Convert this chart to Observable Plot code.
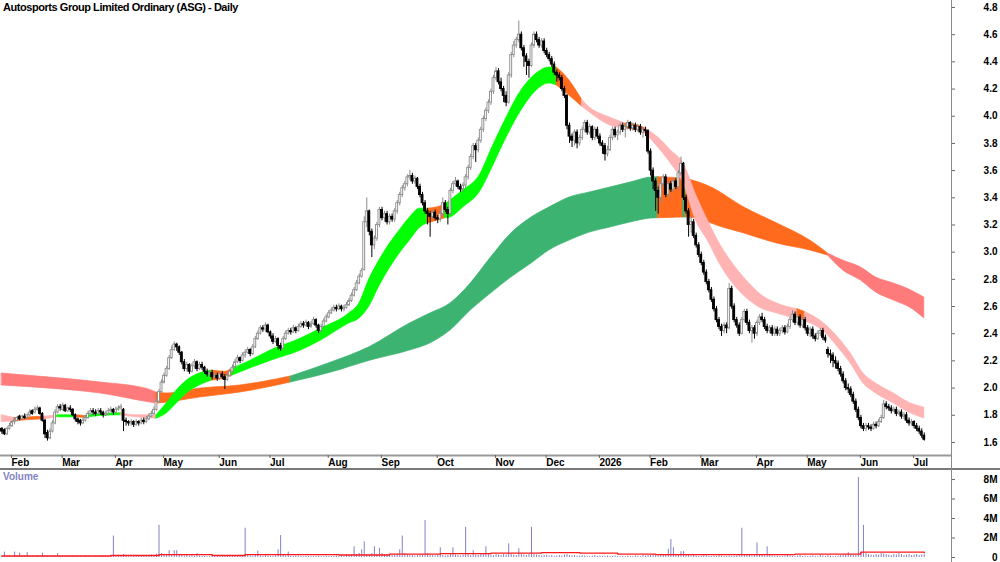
<!DOCTYPE html>
<html><head><meta charset="utf-8">
<script src="https://cdn.jsdelivr.net/npm/d3@7"></script>
<script src="https://cdn.jsdelivr.net/npm/@observablehq/plot@0.6"></script>
<style>
body{margin:0;background:#fff;font-family:"Liberation Sans",Arial,sans-serif;}
#wrap{position:relative;width:1000px;height:562px;overflow:hidden;background:#fff;}
#price{position:absolute;left:0;top:0;}
#vol{position:absolute;left:0;top:469px;}
#title{position:absolute;left:3px;top:1px;font-weight:bold;font-size:11px;line-height:12px;letter-spacing:-0.45px;color:#000;white-space:nowrap;}
#vlabel{position:absolute;left:3px;top:472px;font-weight:bold;font-size:10px;line-height:10px;color:#8484c4;}
#vline{position:absolute;left:951px;top:0;width:1px;height:562px;background:#8a8a8a;}
#hline{position:absolute;left:0;top:468px;width:1000px;height:2px;background:#7a7a7a;}
</style></head><body>
<div id="wrap">
<div id="price"></div><div id="vol"></div>
<div id="hline"></div><div id="vline"></div>
<div id="title">Autosports Group Limited Ordinary (ASG) - Daily</div>
<div id="vlabel">Volume</div>
</div>
<script>
// ---------- data (prices in cents, volumes in 0.01M) ----------
const firstIdx = -3; // first candle sits 3 trading days before the Feb tick
const monthLabels = ["Feb","Mar","Apr","May","Jun","Jul","Aug","Sep","Oct","Nov","Dec","2026","Feb","Mar","Apr","May","Jun","Jul"];
const monthStartIdx = [0,20,41,60,82,102,125,146,168,191,211,232,252,272,294,314,335,356];
const priceTicks = [1.6,1.8,2.0,2.2,2.4,2.6,2.8,3.0,3.2,3.4,3.6,3.8,4.0,4.2,4.4,4.6,4.8];
const volTicks = [0,2,4,6,8];

const closeC = [
168,166,170,172,175,176,178,177,179,178, 180,182,181,184,185,181,176,166,163,168,
174,182,186,185,187,183,185,184,180,177, 175,174,176,178,181,183,182,181,183,182,
180,181,183,184,182,184,185,186,176,175, 174,175,173,175,174,176,175,177,179,181,
184,190,197,204,209,214,222,228,232,230, 226,219,214,217,212,216,219,214,217,215,
212,210,211,208,209,207,210,208,206,209, 212,215,219,222,220,224,226,228,225,230,
236,240,244,243,246,241,238,234,236,231, 229,236,240,242,241,244,242,245,247,246,
248,245,247,250,246,242,245,249,252,255, 257,259,258,260,258,259,261,264,268,272,
277,282,286,322,330,315,305,310,320,331, 325,328,322,326,324,330,336,342,347,350,
355,356,352,354,348,342,336,330,328,326, 329,325,324,328,336,331,328,345,350,352,
348,346,349,355,362,370,378,375,382,390, 398,404,410,418,428,433,425,420,415,410,
430,445,452,456,460,450,444,440,437,452, 460,456,452,455,448,445,442,438,432,430,
428,420,415,393,385,382,388,380,384,390, 395,388,392,384,390,385,380,378,372,375,
384,390,386,388,393,390,392,395,391,393, 390,392,388,390,389,374,360,352,345,340,
350,355,342,350,346,352,348,358,365,340, 330,320,322,312,305,298,292,285,278,272,
265,258,250,245,242,246,244,273,260,250, 246,240,250,256,248,242,244,240,248,252,
250,245,242,244,240,243,240,242,244,241, 245,250,254,248,252,246,250,244,240,243,
238,236,240,242,237,235,225,224,220,218, 214,210,205,200,199,195,190,184,178,172,
170,172,171,170,173,172,175,178,188,186, 185,183,184,181,182,179,180,176,174,175,
172,170,168,165,162];

const openC = [
170,169,166,170,172,175,176,179,177,179, 178,180,183,182,184,185,181,176,167,163,
168,174,182,186,184,187,183,185,184,180, 177,176,174,176,178,181,183,182,181,183,
182,180,181,183,184,182,184,185,184,176, 175,174,175,173,175,174,176,175,177,179,
181,184,190,197,204,209,214,222,228,232, 230,226,219,214,217,212,216,219,214,217,
215,212,210,211,208,209,207,210,208,206, 209,212,215,219,222,220,224,226,228,225,
230,236,240,244,243,246,241,238,234,236, 231,229,236,240,242,241,244,242,245,247,
246,248,245,247,250,246,242,245,249,252, 255,257,259,258,260,258,259,261,264,268,
272,277,282,287,322,330,315,305,310,320, 331,325,328,322,326,324,330,336,342,347,
350,355,356,352,354,348,342,336,330,328, 326,329,325,324,328,336,331,328,345,350,
352,348,346,349,355,362,370,378,375,382, 390,398,404,410,418,428,433,425,420,415,
410,430,445,452,456,460,450,444,440,437, 452,460,456,452,455,448,445,442,438,432,
430,428,420,415,393,385,382,388,380,384, 390,395,388,392,384,390,385,380,378,372,
375,384,390,386,388,393,390,392,395,391, 393,390,392,388,390,389,374,360,352,345,
340,350,355,342,350,346,352,348,358,365, 340,330,320,322,312,305,298,292,285,278,
272,265,258,250,245,242,246,244,273,260, 250,246,240,250,256,248,242,244,240,248,
252,250,245,242,244,240,243,240,242,244, 241,245,250,254,248,252,246,250,244,240,
243,238,236,240,242,237,228,225,224,220, 218,214,210,205,200,199,195,190,184,178,
172,170,172,171,170,173,172,175,178,188, 186,185,183,184,181,182,179,180,176,174,
175,172,170,168,165];

const highC = [
171,170,171,174,176,178,179,180,180,181, 181,184,184,186,187,186,182,177,169,170,
176,184,188,188,189,188,186,187,185,181, 178,177,178,180,183,185,185,184,185,185,
183,183,185,186,185,186,187,188,185,178, 176,177,176,177,176,178,178,179,181,183,
186,192,199,206,211,216,224,231,234,233, 231,227,221,219,218,218,221,220,219,219,
216,214,213,213,211,211,212,212,210,211, 214,217,221,224,223,226,228,230,229,232,
238,242,246,246,248,247,242,240,238,237, 233,238,242,244,244,246,245,247,249,249,
250,249,249,252,251,247,247,251,254,257, 259,261,261,262,261,261,263,266,270,274,
279,284,288,326,340,331,317,312,322,333, 333,330,330,328,328,332,338,344,349,352,
357,360,358,356,355,350,344,338,332,330, 331,331,327,330,340,338,333,347,352,355,
353,350,351,357,364,372,380,380,384,392, 400,406,412,420,430,436,435,428,422,418,
432,447,455,458,470,462,452,446,442,454, 462,462,458,457,457,450,447,444,440,434,
432,430,422,416,395,387,390,390,386,392, 397,397,394,393,392,392,387,382,380,378,
386,392,392,390,395,395,394,397,396,395, 395,394,394,392,392,390,376,362,354,348,
352,357,357,352,352,354,354,360,370,366, 342,332,326,324,314,307,300,294,287,280,
274,267,260,252,247,248,248,277,275,262, 252,248,252,258,258,250,246,246,250,254,
255,252,247,246,246,245,245,244,246,246, 247,252,257,256,254,254,252,252,246,245,
245,240,242,244,244,239,230,228,226,223, 220,216,212,207,203,201,197,192,186,180,
174,174,174,173,175,175,177,180,191,190, 188,187,186,186,184,184,182,182,178,177,
176,174,172,170,167];

const lowC = [
166,165,165,169,171,173,175,176,176,177, 177,179,180,181,183,180,175,163,161,162,
167,173,181,183,183,182,182,182,179,175, 173,172,173,175,177,180,180,179,180,180,
178,179,180,182,180,181,183,184,168,172, 172,172,171,172,172,173,173,174,176,178,
180,183,189,196,203,208,213,221,227,227, 224,217,212,212,210,211,214,212,213,213,
210,208,208,206,207,205,206,206,199,205, 208,211,214,218,218,219,222,225,223,224,
229,235,239,241,241,240,236,232,233,228, 227,228,235,239,239,240,240,241,244,244,
245,243,244,246,244,240,241,244,248,251, 254,256,256,257,256,256,258,260,263,267,
271,276,281,286,318,312,296,302,308,318, 323,322,320,320,322,322,328,334,340,345,
348,353,350,350,346,340,334,328,320,311, 324,323,321,322,326,329,320,327,343,348,
346,344,344,347,353,360,368,366,373,380, 388,396,402,408,416,426,423,418,410,407,
409,428,443,450,454,448,436,430,428,436, 450,454,450,450,446,443,440,436,430,425,
426,418,413,390,380,377,378,376,378,382, 388,386,386,382,382,383,378,372,367,370,
374,382,384,382,386,388,384,390,389,389, 388,388,386,384,385,372,356,346,330,328,
336,348,340,340,344,344,346,346,356,338, 328,311,314,310,303,296,290,283,276,270,
263,256,248,243,238,240,240,243,258,248, 244,238,239,248,246,240,233,236,238,246,
248,243,240,240,238,238,238,238,240,239, 240,243,248,246,246,244,244,242,238,237,
236,234,235,238,235,233,222,218,215,214, 212,208,203,198,196,193,188,182,176,170,
168,168,169,168,169,170,171,174,177,184, 183,181,182,179,180,177,177,174,172,172,
170,168,166,163,161];

const volH = [
12,55,10,15,8,55,12,45,10,15, 50,10,12,8,15,10,45,20,12,10,
8,12,40,10,15,12,8,10,14,10, 12,8,10,15,12,10,8,12,10,14,
10,12,8,10,220,15,12,10,30,12, 10,8,12,10,15,12,10,14,20,25,
20,35,330,40,30,25,70,30,70,70, 30,20,15,25,15,20,12,40,15,10,
12,8,10,15,10,12,8,10,12,15, 10,12,20,15,12,20,300,25,15,12,
20,65,15,12,20,15,10,12,15,80, 225,20,15,55,12,10,15,12,10,8,
12,10,8,10,12,15,10,8,12,10, 10,12,15,10,20,15,30,20,25,110,
30,40,80,160,30,25,40,110,30,95, 40,25,30,20,25,30,35,80,220,40,
30,25,20,15,20,25,30,380,40,25, 20,15,25,100,20,15,20,30,100,25,
20,15,25,310,30,20,70,25,20,30, 40,110,30,25,20,30,25,20,30,25,
140,30,25,20,90,30,25,20,30,310, 30,25,20,15,20,25,15,20,10,15,
20,15,25,30,20,15,20,12,15,20, 15,12,10,15,20,12,15,10,12,15,
10,12,15,10,8,12,10,15,12,10, 15,12,10,20,15,20,25,30,20,15,
20,25,30,85,185,100,30,20,60,60, 30,20,15,20,15,12,15,20,15,12,
10,15,12,20,15,10,12,15,10,12, 15,20,300,30,25,20,15,20,150,25,
20,15,110,20,15,12,15,10,12,15, 20,15,12,10,15,20,12,15,10,12,
15,12,10,20,15,12,20,15,10,12, 15,20,25,30,50,30,25,20,820,50,
330,40,30,25,20,30,25,40,35,30, 25,20,30,25,40,30,20,25,30,20,
25,30,20,25,30];

// volume moving-average line (M)
const volAvgIdx = [-3,20,40,59,80,93,110,130,150,170,190,210,225,240,255,270,290,310,330,336,361];
const volAvgM   = [0.15,0.15,0.2,0.3,0.2,0.3,0.3,0.25,0.35,0.4,0.45,0.5,0.45,0.35,0.3,0.3,0.3,0.35,0.35,0.55,0.5];

// short-term MA ribbon (upper / lower edge)
const shortIdx = [-3,2,8,14,19,26,30,36,44,50,58,62,66,70,75,80,85,88,95,103,115,123,134,138,142,146,150,154,158,162,165,169,172,174,179,186,190,195,202,208,213,216,220,226,229,237,243,248,251,256,261,266,271,276,280,284,292,296,303,311,314,321,327,332,337,342,349,355,361];
const shortHi = [1.80,1.78,1.785,1.79,1.80,1.80,1.795,1.81,1.815,1.80,1.80,1.886,1.982,2.055,2.107,2.129,2.12,2.144,2.20,2.276,2.364,2.438,2.548,2.62,2.80,2.94,3.06,3.16,3.255,3.32,3.32,3.33,3.35,3.38,3.453,3.579,3.748,3.946,4.189,4.314,4.358,4.358,4.285,4.12,4.064,3.99,3.946,3.932,3.91,3.843,3.748,3.652,3.42,3.218,3.071,2.953,2.769,2.695,2.622,2.58,2.56,2.482,2.372,2.254,2.107,2.033,1.96,1.893,1.857];
const shortLo = [1.75,1.755,1.765,1.77,1.785,1.785,1.78,1.795,1.80,1.785,1.775,1.813,1.886,1.96,2.019,2.055,2.07,2.092,2.144,2.20,2.276,2.35,2.475,2.51,2.60,2.75,2.88,2.99,3.085,3.18,3.21,3.233,3.25,3.255,3.328,3.453,3.60,3.799,4.042,4.189,4.241,4.226,4.167,4.07,4.027,3.932,3.91,3.895,3.873,3.77,3.652,3.505,3.23,3.071,2.924,2.806,2.644,2.592,2.548,2.505,2.49,2.423,2.298,2.18,2.033,1.96,1.886,1.82,1.776];
const shortSegStart = [-3,2,14,19,26,30,44,58,80,88,165,172,216,226,243,251,311,314];
const shortSegState = ["down","turn","down","up","turn","up","down","up","turn","up","turn","up","turn","down","turn","down","turn","down"];

// long-term MA ribbon
const longIdx = [-3,16,36,55,58,62,75,91,111,127,142,158,166,174,182,190,198,206,213,221,229,237,245,253,256,266,267,274,277,290,303,316,323,329,336,342,349,356,361];
const longHi = [2.107,2.077,2.041,1.99,1.967,1.96,1.996,2.019,2.085,2.188,2.30,2.475,2.548,2.622,2.769,2.96,3.137,3.255,3.328,3.402,3.439,3.475,3.512,3.549,3.552,3.542,3.54,3.50,3.476,3.328,3.211,3.085,2.99,2.938,2.887,2.813,2.769,2.717,2.666];
const longLo = [2.019,1.996,1.96,1.895,1.886,1.893,1.93,1.967,2.041,2.114,2.20,2.276,2.328,2.423,2.57,2.695,2.813,2.916,3.012,3.085,3.144,3.181,3.218,3.247,3.25,3.255,3.255,3.235,3.211,3.137,3.063,3.012,2.975,2.865,2.791,2.703,2.644,2.585,2.512];
const longSegStart = [-3,58,111,256,266,267,323];
const longSegState = ["down","turn","up","turn","up","turn","down"];

// ---------- build ----------
const candles = closeC.map((c, k) => ({
  i: k + firstIdx, o: openC[k] / 100, h: highC[k] / 100, l: lowC[k] / 100, c: c / 100, v: volH[k] / 100
}));
const upC = candles.filter(d => d.c >= d.o);
const dnC = candles.filter(d => d.c < d.o);
const lastIdx = candles[candles.length - 1].i;

const shortColors = {up: "#00ff00", turn: "#ff6a1c", down: "#ffb3b3"};
const longColors  = {up: "#3cb371", turn: "#ff6a1c", down: "#ff7a7a"};

function bandMarks(idx, hi, lo, starts, states, colors, endIdx) {
  const pts = idx.map((i, k) => ({i, hi: hi[k], lo: lo[k]}));
  return starts.map((a, s) => {
    const b = s + 1 < starts.length ? starts[s + 1] : endIdx;
    const col = colors[states[s]];
    return Plot.areaY(pts.filter(p => p.i >= a && p.i <= b), {
      x: "i", y1: "lo", y2: "hi", fill: col, stroke: col, strokeWidth: 0.7, curve: "monotone-x"
    });
  });
}

const xDomain = [-3.55, 371.75];
const yDomain = [1.504, 4.8515];
const labelByIdx = new Map(monthStartIdx.map((d, k) => [d, monthLabels[k]]));
const fontStyle = {fontFamily: "'Liberation Sans', Arial, sans-serif", fontSize: "10px", fontWeight: "bold", color: "#000", background: "transparent", overflow: "visible"};

const price = Plot.plot({
  width: 1000, height: 469,
  marginLeft: 0, marginRight: 49, marginTop: 0, marginBottom: 14,
  style: fontStyle,
  x: {type: "linear", domain: xDomain, axis: null, label: null},
  y: {domain: yDomain, axis: null, label: null},
  marks: [
    ...bandMarks(longIdx, longHi, longLo, longSegStart, longSegState, longColors, lastIdx),
    ...bandMarks(shortIdx, shortHi, shortLo, shortSegStart, shortSegState, shortColors, lastIdx),
    Plot.ruleX(upC, {x: "i", y1: "l", y2: "h", stroke: "#8c8c8c", strokeWidth: 1}),
    Plot.ruleX(dnC, {x: "i", y1: "l", y2: "h", stroke: "#000", strokeWidth: 1}),
    Plot.rect(upC, {x1: d => d.i - 0.38, x2: d => d.i + 0.38, y1: "o", y2: "c", fill: "#fff", stroke: "#8c8c8c", strokeWidth: 0.9}),
    Plot.rect(dnC, {x1: d => d.i - 0.38, x2: d => d.i + 0.38, y1: "o", y2: "c", fill: "#000", stroke: "#000", strokeWidth: 0.9}),
    Plot.ruleY([yDomain[0]], {stroke: "#9a9a9a", strokeWidth: 2}),
    Plot.axisY(priceTicks, {anchor: "right", tickSize: 3, tickFormat: () => "", label: null, stroke: "#666"}),
    Plot.text(priceTicks, {y: d => d, frameAnchor: "right", text: d => d3.format(".1f")(d), textAnchor: "end", dx: 46, fill: "#000"}),
    Plot.axisX(monthStartIdx, {anchor: "bottom", tickSize: 3, tickPadding: 0, tickFormat: d => labelByIdx.get(d), textAnchor: "start", dx: 2, label: null, stroke: "#666", fill: "#000"})
  ]
});
document.getElementById("price").appendChild(price);

const vol = Plot.plot({
  width: 1000, height: 93,
  marginLeft: 0, marginRight: 49, marginTop: 0, marginBottom: 5,
  style: fontStyle,
  x: {type: "linear", domain: xDomain, axis: null, label: null},
  y: {domain: [0, 9.03], axis: null, label: null},
  marks: [
    Plot.ruleX(candles, {x: "i", y1: 0, y2: "v", stroke: "#8282c8", strokeWidth: 1}),
    Plot.line(volAvgIdx.map((i, k) => ({i, m: volAvgM[k]})), {x: "i", y: "m", stroke: "#ff1a1a", strokeWidth: 1.4, curve: "step-after"}),
    Plot.axisY(volTicks, {anchor: "right", tickSize: 3, tickFormat: () => "", label: null, stroke: "#666"}),
    Plot.text(volTicks, {y: d => d, frameAnchor: "right", text: d => d === 0 ? "0" : d + "M", textAnchor: "end", dx: 46, fill: "#000"})
  ]
});
document.getElementById("vol").appendChild(vol);
</script>
</body></html>
